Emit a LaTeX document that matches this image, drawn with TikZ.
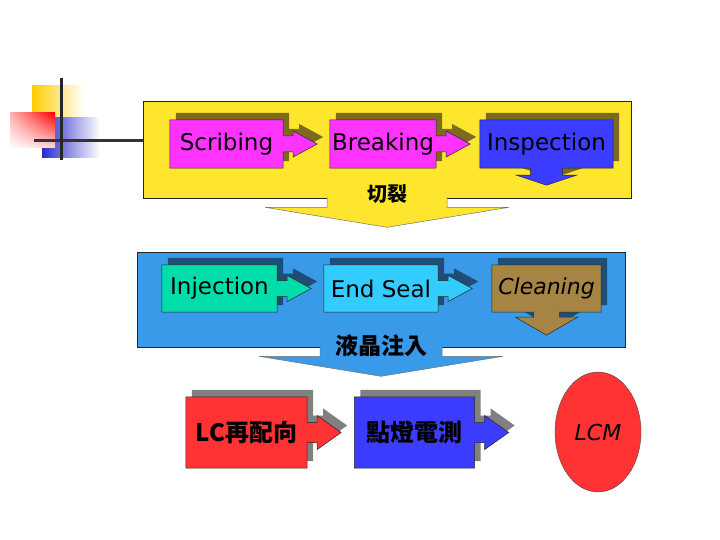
\documentclass[tikz,border=0pt]{standalone}
\usepackage{fontspec}
\setmainfont{DejaVu Sans}
\newfontfamily\cjk{Noto Sans CJK TC}
\usetikzlibrary{shapes.geometric,shadows,shadings,backgrounds}
\definecolor{panelyellow}{HTML}{FFE62E}
\definecolor{panelblue}{HTML}{3A9AEA}
\definecolor{boxpink}{HTML}{FF33FF}
\definecolor{boxblue}{HTML}{3C3CFF}
\definecolor{boxgreen}{HTML}{00DDAA}
\definecolor{boxcyan}{HTML}{33CCFF}
\definecolor{boxbrown}{HTML}{A68443}
\definecolor{boxred}{HTML}{FF3333}
\definecolor{shadeolive}{HTML}{7D6A1E}
\definecolor{shadenavy}{HTML}{1F4D74}
\definecolor{shadegray}{HTML}{808080}
\definecolor{logoyellow}{HTML}{FFCC00}
\definecolor{logoblue}{HTML}{2B2BCC}

% box with an arrow on its right: node, fill, shadow, neck, head
\newcommand{\rcallout}[5]{%
  \path[callout=#2,drop shadow={shadow xshift=6pt,shadow yshift=7pt,opacity=1,fill=#3}]
    (#1.north west) -- (#1.north east)
    -- ([yshift=#4]#1.east) -- ++(10,0) -- ++(0,{#4-#5}) -- ++(24,#5)
    -- ++(-24,#5) -- ++(0,{#4-#5}) -- ++(-10,0)
    -- (#1.south east) -- (#1.south west) -- cycle;}
% box with an arrow below: node, fill, shadow, neck, head, neck length, head length
\newcommand{\dcallout}[7]{%
  \path[callout=#2,drop shadow={shadow xshift=6pt,shadow yshift=7pt,opacity=1,fill=#3}]
    (#1.north west) -- (#1.north east) -- (#1.south east)
    -- ([xshift=#4]#1.south) -- ++(0,#6) -- ++({#5-#4},0) -- ++(-#5,#7)
    -- ++(-#5,-#7) -- ++({#5-#4},0) -- ++(0,-#6) -- (#1.south west) -- cycle;}

\begin{document}
\begin{tikzpicture}[
  x=1pt,y=-1pt,
  stage/.style={minimum height=48pt,inner sep=0pt,font=\fontsize{23}{27}\selectfont},
  tall/.style={stage,minimum height=71pt,font=\cjk\bfseries\fontsize{24}{28}\selectfont},
  callout/.style={fill=#1,draw=black!85,line width=.5pt},
  panel/.style={draw=black!85,line width=.6pt,inner sep=0pt,minimum width=488pt},
  pointer/.style={draw=black!55,line width=.5pt},
  caption/.style={font=\cjk\bfseries\fontsize{20}{24}\selectfont}
]
\useasboundingbox (0,0) rectangle (720,540);
% stages: text only, the shapes go on the background layer
\node[stage,minimum width=113pt] (scrib) at (226.5,144) {Scribing};
\node[stage,minimum width=106pt] (brk)   at (383,144) {Breaking};
\node[stage,minimum width=133pt] (insp)  at (546.5,144) {Inspection};
\node[stage,minimum width=115pt,minimum height=47pt] (inj)  at (219.5,288.5) {Injection};
\node[stage,minimum width=114pt,minimum height=47pt] (seal) at (381,288.5) {End Seal};
\node[stage,minimum width=109pt,minimum height=47pt,
  font=\itshape\fontsize{22}{26}\selectfont] (clean) at (546.5,288.5) {Cleaning};
\node[tall,minimum width=121pt] (align) at (246.5,432.5) {LC再配向};
\node[tall,minimum width=120pt] (light) at (414.5,432.5) {點燈電測};
\node[ellipse,draw=black!70,fill=boxred,minimum width=86pt,minimum height=120pt,
  font=\itshape\fontsize{22}{26}\selectfont] (lcm) at (598,432) {LCM};

\begin{scope}[on background layer]
% logo
\shade[left color=logoyellow,middle color=logoyellow!90,right color=white] (32,86) rectangle (84,118);
\shade[left color=logoblue,middle color=logoblue,right color=white] (42,118) rectangle (100,158);
\shade[upper left=red!30,upper right=red,lower left=white,lower right=red!15] (10,113) rectangle (55,148);
\draw[black!80,line width=3pt] (34,141) -- (150,141);
\draw[black!85,line width=3pt] (61,78) -- (61,160);
% first panel
\node[panel,fill=panelyellow,minimum height=97pt] (cutting) at (387,149.5) {};
\path[pointer,fill=panelyellow] ([xshift=-60pt,yshift=1pt]cutting.south) -- ++(0,10)
  -- ++(-62,0) -- ++(122,20) -- ++(122,-20) -- ++(-62,0) -- ++(0,-10);
\rcallout{scrib}{boxpink}{shadeolive}{8}{13}
\rcallout{brk}{boxpink}{shadeolive}{8}{13}
\dcallout{insp}{boxblue}{shadeolive}{16}{30}{7}{10}
% second panel
\node[panel,fill=panelblue,minimum height=95pt] (filling) at (381,299.5) {};
\path[pointer,fill=panelblue] ([xshift=-61pt,yshift=1pt]filling.south) -- ++(0,10)
  -- ++(-61,0) -- ++(122,20) -- ++(122,-20) -- ++(-61,0) -- ++(0,-10);
\rcallout{inj}{boxgreen}{shadenavy}{8}{13}
\rcallout{seal}{boxcyan}{shadenavy}{8}{13}
\dcallout{clean}{boxbrown}{shadenavy}{13}{31}{5}{18}
% last row
\rcallout{align}{boxred}{shadegray}{10}{17}
\rcallout{light}{boxblue}{shadegray}{10}{17}
\end{scope}

\node[caption] (cutname) at ([yshift=4pt]cutting.south) {切裂};
\node[caption,font=\cjk\bfseries\fontsize{23}{27}\selectfont] (fillname) at ([yshift=2pt]filling.south) {液晶注入};
\end{tikzpicture}
\end{document}
